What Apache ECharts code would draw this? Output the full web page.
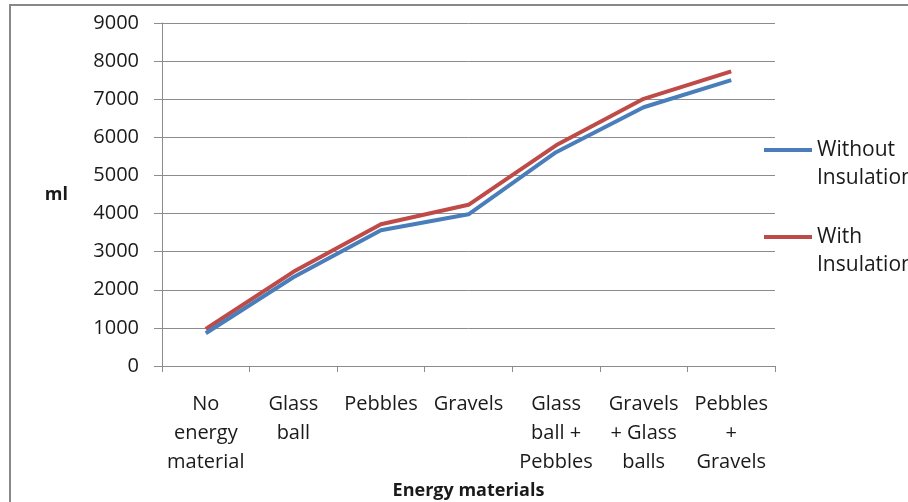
<!DOCTYPE html>
<html>
<head>
<meta charset="utf-8">
<script src="https://cdn.jsdelivr.net/npm/echarts@6/dist/echarts.min.js"></script>
<style>
  html, body { margin: 0; padding: 0; background: #fff; }
  #chart { width: 908px; height: 502px; }
</style>
</head>
<body>
<div id="chart"></div>
<script>
// Categories along the x axis (multi-line labels)
const materials = [
  'No\nenergy\nmaterial',
  'Glass\nball',
  'Pebbles',
  'Gravels',
  'Glass\nball +\nPebbles',
  'Gravels\n+ Glass\nballs',
  'Pebbles\n+\nGravels'
];

// Water collected (ml) for each energy material
const withoutInsulation = [860, 2330, 3560, 3980, 5610, 6790, 7500];
const withInsulation = [970, 2470, 3720, 4230, 5790, 7010, 7730];

const seriesNames = ['Without\nInsulation', 'With\nInsulation'];

const FONT = '"Open Sans", "Liberation Sans", sans-serif';
const TEXT = '#1a1a1a';
const AXIS_GRAY = '#8c8c8c';

const chart = echarts.init(document.getElementById('chart'), null, { renderer: 'canvas' });

chart.setOption({
  animation: false,
  backgroundColor: '#ffffff',
  graphic: [{
    type: 'rect',
    shape: { x: 10, y: 5, width: 940, height: 520 },
    style: { fill: 'none', stroke: '#888888', lineWidth: 2 },
    silent: true
  }],
  grid: {
    left: 162, right: 133, top: 23, bottom: 136,
    containLabel: false,
    outerBoundsMode: 'none'
  },
  legend: {
    orient: 'vertical',
    left: 764,
    top: 108,
    padding: 0,
    itemWidth: 48,
    itemHeight: 4,
    itemGap: 3,
    icon: 'rect',
    data: seriesNames,
    // leading blank line keeps the first text line level with the swatch
    formatter: name => '\n' + name,
    textStyle: {
      fontFamily: FONT,
      fontSize: 21,
      color: TEXT,
      lineHeight: 28
    }
  },
  xAxis: {
    type: 'category',
    data: materials,
    boundaryGap: true,
    name: 'Energy materials',
    nameLocation: 'middle',
    nameGap: 106,
    nameTextStyle: { fontFamily: FONT, fontSize: 18, fontWeight: 'bold', color: TEXT },
    axisLine: { lineStyle: { color: AXIS_GRAY, width: 1 } },
    axisTick: { show: true, alignWithLabel: false, length: 6, lineStyle: { color: AXIS_GRAY } },
    axisLabel: {
      interval: 0,
      margin: 24,
      fontFamily: FONT,
      fontSize: 20,
      lineHeight: 29,
      color: TEXT,
      align: 'center'
    },
    splitLine: { show: false }
  },
  yAxis: {
    type: 'value',
    min: 0,
    max: 9000,
    interval: 1000,
    name: 'ml',
    nameLocation: 'middle',
    nameRotate: 0,
    nameGap: 94,
    nameTextStyle: { fontFamily: FONT, fontSize: 18, fontWeight: 'bold', color: TEXT },
    axisLine: { show: true, lineStyle: { color: AXIS_GRAY, width: 1 } },
    axisTick: { show: true, length: 8, lineStyle: { color: AXIS_GRAY } },
    axisLabel: {
      margin: 23,
      fontFamily: FONT,
      fontSize: 20,
      color: TEXT,
      formatter: v => String(v)
    },
    splitLine: { show: true, lineStyle: { color: AXIS_GRAY, width: 1 } }
  },
  series: [
    {
      name: seriesNames[0],
      type: 'line',
      data: withoutInsulation,
      symbol: 'none',
      lineStyle: { color: '#4a7ebb', width: 4 },
      itemStyle: { color: '#4a7ebb' },
      z: 3
    },
    {
      name: seriesNames[1],
      type: 'line',
      data: withInsulation,
      symbol: 'none',
      lineStyle: { color: '#be4b48', width: 4 },
      itemStyle: { color: '#be4b48' },
      z: 2
    }
  ]
});
</script>
</body>
</html>
